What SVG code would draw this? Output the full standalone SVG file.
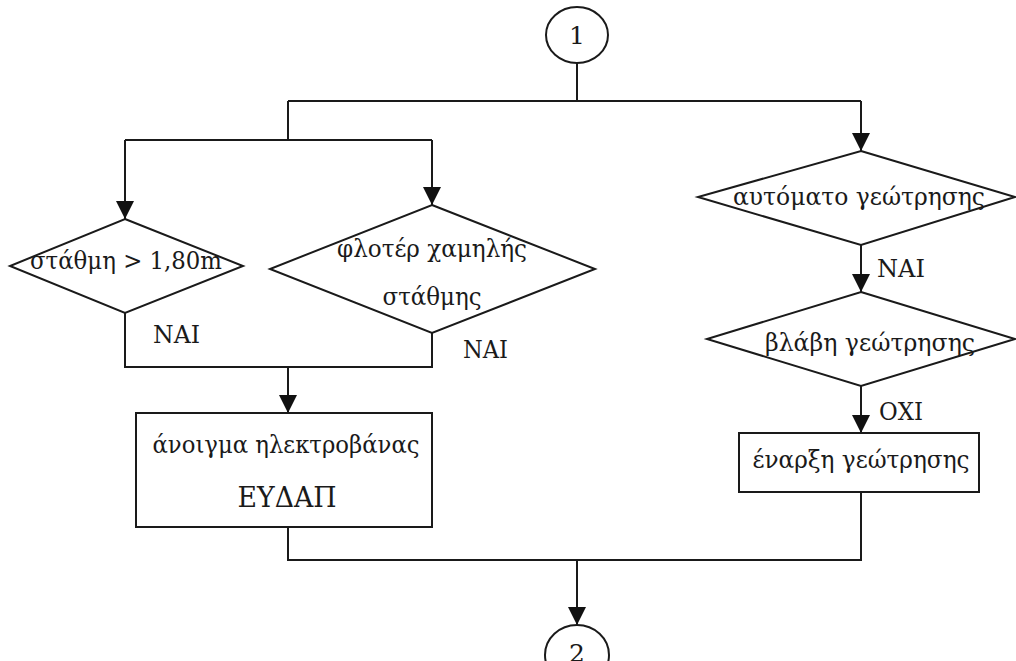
<svg xmlns="http://www.w3.org/2000/svg" width="1016" height="661" viewBox="0 0 1016 661">
  <style>
    .shape { fill: #ffffff; stroke: #1a1a1a; stroke-width: 2; }
    .wire { fill: none; stroke: #1a1a1a; stroke-width: 2; }
    .label { font-family: "DejaVu Serif", "Liberation Serif", serif; font-size: 25px; fill: #1a1a1a; text-anchor: middle; }
    .tag { font-family: "DejaVu Serif", "Liberation Serif", serif; font-size: 25px; fill: #1a1a1a; }
  </style>
  <defs>
    <marker id="arrow" markerUnits="userSpaceOnUse" markerWidth="18" markerHeight="20" refX="18" refY="9" orient="auto">
      <path d="M0,0 L18,9 L0,18 Z" fill="#111111"/>
    </marker>
  </defs>
  <rect width="1016" height="661" fill="#ffffff"/>

  <!-- connectors -->
  <g id="connectors">
    <path class="wire" d="M577,63 V101"/>
    <path class="wire" d="M288,101 H861"/>
    <path class="wire" d="M288,101 V140"/>
    <path class="wire" d="M125,140 H432"/>
    <path class="wire" d="M125,140 V219" marker-end="url(#arrow)"/>
    <path class="wire" d="M432,140 V205" marker-end="url(#arrow)"/>
    <path class="wire" d="M861,101 V151" marker-end="url(#arrow)"/>
    <path class="wire" d="M125,313 V367 H432 V333"/>
    <path class="wire" d="M288,367 V413" marker-end="url(#arrow)"/>
    <path class="wire" d="M861,245 V292" marker-end="url(#arrow)"/>
    <path class="wire" d="M861,386 V433" marker-end="url(#arrow)"/>
    <path class="wire" d="M288,527 V560 H861 V492"/>
    <path class="wire" d="M577,560 V625" marker-end="url(#arrow)"/>
    <text class="tag" x="153" y="343" textLength="47" lengthAdjust="spacingAndGlyphs">ΝΑΙ</text>
    <text class="tag" x="463" y="358" textLength="45" lengthAdjust="spacingAndGlyphs">ΝΑΙ</text>
    <text class="tag" x="877" y="277" textLength="48" lengthAdjust="spacingAndGlyphs">ΝΑΙ</text>
    <text class="tag" x="879" y="420" textLength="44" lengthAdjust="spacingAndGlyphs">ΟΧΙ</text>
  </g>

  <g id="start">
    <ellipse class="shape" cx="577" cy="35" rx="31" ry="28"/>
    <text class="label" x="577" y="44">1</text>
  </g>

  <g id="level-check">
    <polygon class="shape" points="125,219 243,266 125,313 10,266"/>
    <text class="label" x="126" y="269" textLength="192" lengthAdjust="spacingAndGlyphs">στάθμη &gt; 1,80m</text>
  </g>

  <g id="float-check">
    <polygon class="shape" points="432,205 595,269 432,333 270,269"/>
    <text class="label" x="432" y="257" textLength="190" lengthAdjust="spacingAndGlyphs">φλοτέρ χαμηλής</text>
    <text class="label" x="432" y="305" textLength="99" lengthAdjust="spacingAndGlyphs">στάθμης</text>
  </g>

  <g id="open-valve">
    <rect class="shape" x="136" y="413" width="296" height="114"/>
    <text class="label" x="286" y="453" textLength="267" lengthAdjust="spacingAndGlyphs">άνοιγμα ηλεκτροβάνας</text>
    <text class="label" x="287" y="507" style="font-size:28px" textLength="99" lengthAdjust="spacingAndGlyphs">ΕΥΔΑΠ</text>
  </g>

  <g id="borehole-auto">
    <polygon class="shape" points="861,151 1015,197 861,245 698,197"/>
    <text class="label" x="859" y="205" textLength="252" lengthAdjust="spacingAndGlyphs">αυτόματο γεώτρησης</text>
  </g>

  <g id="borehole-fault">
    <polygon class="shape" points="861,292 1015,339 861,386 707,339"/>
    <text class="label" x="870" y="351" textLength="210" lengthAdjust="spacingAndGlyphs">βλάβη γεώτρησης</text>
  </g>

  <g id="borehole-start">
    <rect class="shape" x="739" y="433" width="240" height="59"/>
    <text class="label" x="861" y="468" textLength="217" lengthAdjust="spacingAndGlyphs">έναρξη γεώτρησης</text>
  </g>

  <g id="end">
    <ellipse class="shape" cx="577" cy="655" rx="32" ry="30"/>
    <text class="label" x="577" y="662">2</text>
  </g>
</svg>
